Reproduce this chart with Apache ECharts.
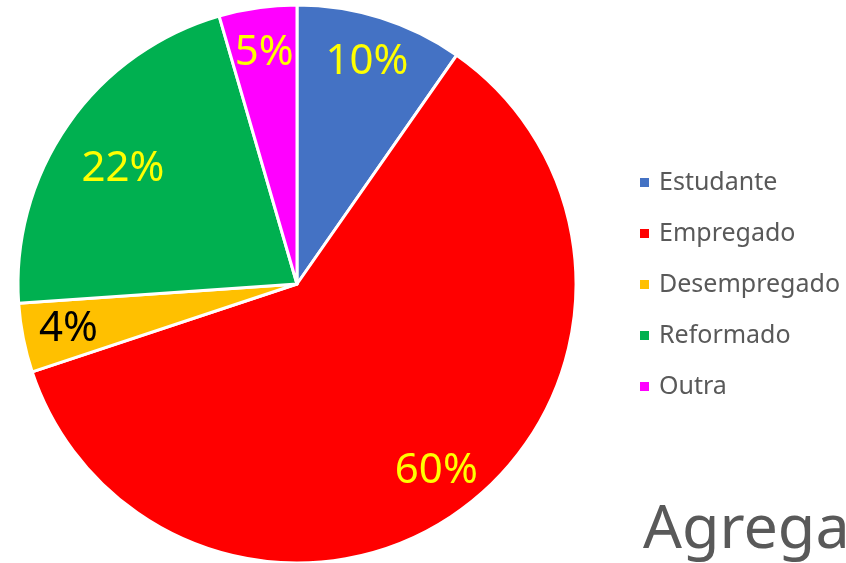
<!DOCTYPE html>
<html>
<head>
<meta charset="utf-8">
<script src="https://cdn.jsdelivr.net/npm/echarts@6/dist/echarts.min.js"></script>
<style>
  html, body { margin: 0; padding: 0; background: #fff; }
  #chart { width: 846px; height: 563px; }
</style>
</head>
<body>
<div id="chart"></div>
<script>
// categories and shares (percent)
const categories = ['Estudante', 'Empregado', 'Desempregado', 'Reformado', 'Outra']
const shares = [9.7, 60.2, 4.0, 21.6, 4.5]
const colors = ['#4472C4', '#FF0000', '#FFC000', '#00B050', '#FF00FF']
const labelColors = ['#FFFF00', '#FFFF00', '#000000', '#FFFF00', '#FFFF00']

const font = '"Noto Sans", sans-serif'
const center = [297, 284]

const chart = echarts.init(document.getElementById('chart'), null, { renderer: 'canvas' })

const sliceData = categories.map((name, i) => ({
  name: name,
  value: shares[i],
  itemStyle: { color: colors[i] }
}))

// second, invisible ring only carries the labels (so they sit near the rim)
const labelData = categories.map((name, i) => ({
  name: name,
  value: shares[i],
  itemStyle: { color: 'rgba(0,0,0,0)', borderWidth: 0 },
  label: name === 'Reformado'
    ? { color: labelColors[i], offset: [17, 18] }
    : { color: labelColors[i] }
}))

chart.setOption({
  animation: false,
  title: {
    text: 'Agrega',
    left: 643,
    top: 500,
    padding: 0,
    textStyle: {
      fontFamily: font,
      fontSize: 61,
      fontWeight: 'normal',
      color: '#595959'
    }
  },
  legend: {
    orient: 'vertical',
    left: 638,
    top: 170,
    padding: 0,
    itemWidth: 11,
    itemHeight: 11,
    itemGap: 26,
    icon: 'rect',
    data: categories,
    textStyle: {
      fontFamily: font,
      fontSize: 25,
      lineHeight: 25,
      color: '#595959',
      padding: [0, 0, 0, 4]
    }
  },
  series: [
    {
      name: 'slices',
      type: 'pie',
      center: center,
      radius: [0, 279],
      startAngle: 90,
      clockwise: true,
      avoidLabelOverlap: false,
      itemStyle: { borderColor: '#ffffff', borderWidth: 3 },
      label: { show: false },
      labelLine: { show: false },
      emphasis: { disabled: true },
      data: sliceData
    },
    {
      name: 'labels',
      type: 'pie',
      center: center,
      radius: [181, 279],
      startAngle: 90,
      clockwise: true,
      silent: true,
      legendHoverLink: false,
      avoidLabelOverlap: false,
      label: {
        show: true,
        position: 'inside',
        fontFamily: font,
        fontSize: 42,
        formatter: function (p) {
          return Math.round(p.percent) + '%'
        }
      },
      labelLine: { show: false },
      emphasis: { disabled: true },
      data: labelData
    }
  ]
})
</script>
</body>
</html>
